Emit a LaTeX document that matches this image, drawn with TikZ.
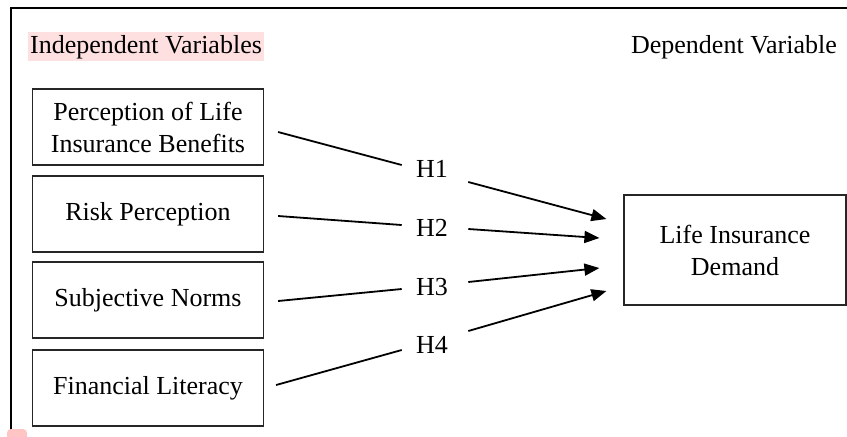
\documentclass[tikz,border=0pt]{standalone}
\usepackage{fontspec}
\setmainfont{Liberation Serif}
\usetikzlibrary{arrows.meta}
\definecolor{hlpink}{RGB}{255,224,224}
\definecolor{markpink}{RGB}{255,196,196}

\begin{document}
\begin{tikzpicture}[x=0.5pt,y=-0.5pt,font=\fontsize{13}{16}\selectfont,
  box/.style={draw=black!85,line width=0.6pt,minimum width=115.5pt,minimum height=38pt,align=center},
  hyp/.style={inner xsep=7pt},
  link/.style={line width=0.9pt},
  arrow/.style={line width=0.9pt,-{Triangle[length=7.5pt,width=6pt]}}]
  \useasboundingbox (0,0) rectangle (847,436);
  \draw[line width=1pt] (847,8) -- (11,8) -- (11,436);
  \fill[hlpink] (28,32) rectangle (264,61); \fill[markpink,rounded corners=2pt] (7,429) rectangle (27,442);
  \node (indep) at (146,47) {Independent Variables}; \node (dep) at (734,47) {Dependent Variable};
  % independent variables
  \node[box] (benefit) at (148,127) {Perception of Life\\Insurance Benefits};
  \node[box] (risk) at (148,214) {Risk Perception};
  \node[box] (norms) at (148,300) {Subjective Norms};
  \node[box] (literacy) at (148,388) {Financial Literacy};
  % dependent variable
  \node[box,minimum width=111pt,minimum height=55pt] (demand) at (735,250) {Life Insurance\\Demand};
  \node[hyp] (h1) at (432,169) {H1}; \node[hyp] (h2) at (432,228) {H2};
  \node[hyp] (h3) at (432,287) {H3}; \node[hyp] (h4) at (432,345) {H4};
  \draw[link] ([shift={(7pt,-2.5pt)}]benefit.east) -- ([yshift=2pt]h1.west);
  \draw[arrow] ([shift={(3pt,-6.5pt)}]h1.east) -- ([shift={(-8.5pt,15.5pt)}]demand.west);
  \draw[link] ([shift={(7pt,-1pt)}]risk.east) -- ([yshift=1.5pt]h2.west);
  \draw[arrow] ([shift={(3pt,-0.5pt)}]h2.east) -- ([shift={(-12pt,6pt)}]demand.west);
  \draw[link] ([shift={(7pt,-0.5pt)}]norms.east) -- ([yshift=-1pt]h3.west);
  \draw[arrow] ([shift={(3pt,2.5pt)}]h3.east) -- ([shift={(-12pt,-9pt)}]demand.west);
  \draw[link] ([shift={(6pt,1.5pt)}]literacy.east) -- ([yshift=-2.5pt]h4.west);
  \draw[arrow] ([shift={(3pt,7pt)}]h4.east) -- ([shift={(-8.5pt,-20.5pt)}]demand.west);
\end{tikzpicture}
\end{document}
